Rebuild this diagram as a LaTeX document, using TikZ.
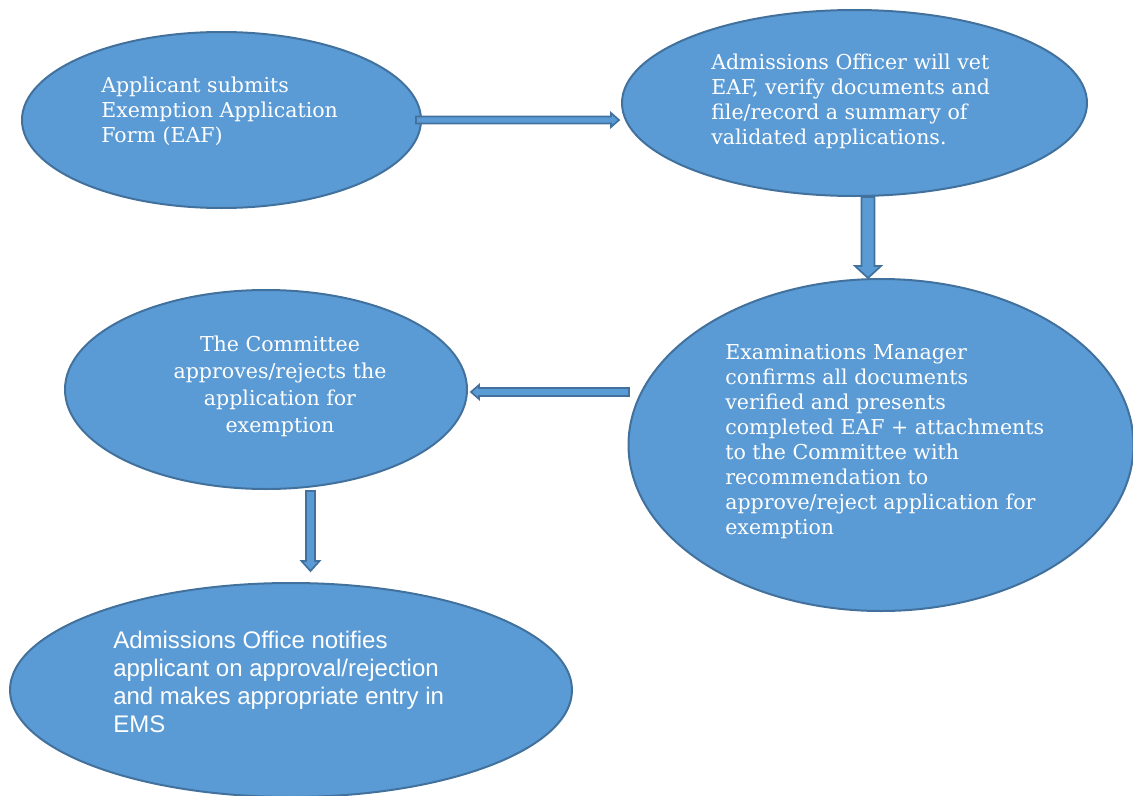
\documentclass[tikz,border=0pt]{standalone}
\usepackage{fontspec}
\setmainfont{DejaVu Serif}
\newfontfamily\sansf{Liberation Sans}
\usetikzlibrary{shapes.geometric,calc}
\definecolor{fillb}{HTML}{5B9BD5}
\definecolor{lineb}{HTML}{41719C}
\tikzset{
  ell/.style={ellipse, fill=fillb, draw=lineb, line width=1.5pt, inner sep=0pt},
  txt/.style={text=white, align=left, anchor=north west, inner sep=0pt,
    font=\fontsize{15.4}{18.75}\selectfont},
  barrow/.style={fill=fillb, draw=lineb, line width=1.3pt, line join=miter},
}
\begin{document}
\begin{tikzpicture}[x=0.75pt,y=-0.75pt]
\useasboundingbox (0,0) rectangle (1133,796);
% ellipses
\node[ell, minimum width=299.25pt, minimum height=132pt] (e1) at (221.5,120) {};
\node[ell, minimum width=348.75pt, minimum height=139.5pt] (e2) at (854.5,103) {};
\node[ell, minimum width=378.75pt, minimum height=249pt] (e3) at (881,445) {};
\node[ell, minimum width=301.5pt, minimum height=149.25pt] (e4) at (266,389.5) {};
\node[ell, minimum width=421.5pt, minimum height=160.5pt] (e5) at (291,690) {};
% texts
\node[txt] (t1) at (101,77) {Applicant submits\\Exemption Application\\Form (EAF)};
\node[txt] (t2) at (711,54) {Admissions Officer will vet\\EAF, verify documents and\\file/record a summary of\\validated applications.};
\node[txt] (t3) at (725,344) {Examinations Manager\\confirms all documents\\verified and presents\\completed EAF + attachments\\to the Committee with\\recommendation to\\approve/reject application for\\exemption};
\node[txt, align=center, anchor=north, font=\fontsize{15.4}{20.25}\selectfont] (t4) at (280,336) {The Committee\\approves/rejects the\\application for\\exemption};
\node[txt, font=\sansf\fontsize{18}{21}\selectfont] (t5) at (113,631) {Admissions Office notifies\\applicant on approval/rejection\\and makes appropriate entry in\\EMS};
% arrow 1: right
\coordinate (a1s) at ($(e1.east)+(-6,0)$);
\coordinate (a1e) at ($(e2.west |- a1s)+(-2,0)$);
\filldraw[barrow] let \p1=(a1s), \p2=(a1e) in
  (\x1,\y1+2.6pt) -- (\x2-6pt,\y1+2.6pt) -- (\x2-6pt,\y1+5.25pt) -- (\x2,\y1)
  -- (\x2-6pt,\y1-5.25pt) -- (\x2-6pt,\y1-2.6pt) -- (\x1,\y1-2.6pt) -- cycle;
% arrow 2: down
\coordinate (a2s) at ($(e2.south)+(13.5,0)$);
\coordinate (a2e) at (a2s |- e3.north);
\filldraw[barrow] let \p1=(a2s), \p2=(a2e) in
  (\x1-4.875pt,\y1) -- (\x1-4.875pt,\y2+9pt) -- (\x1-9.75pt,\y2+9pt) -- (\x1,\y2)
  -- (\x1+9.75pt,\y2+9pt) -- (\x1+4.875pt,\y2+9pt) -- (\x1+4.875pt,\y1) -- cycle;
% arrow 3: left
\coordinate (a3s) at ($(e3.west)+(1.5,-53)$);
\coordinate (a3e) at ($(e4.east |- a3s)+(3,0)$);
\filldraw[barrow] let \p1=(a3s), \p2=(a3e) in
  (\x1,\y1+3pt) -- (\x2+6pt,\y1+3pt) -- (\x2+6pt,\y1+5.25pt) -- (\x2,\y1)
  -- (\x2+6pt,\y1-5.25pt) -- (\x2+6pt,\y1-3pt) -- (\x1,\y1-3pt) -- cycle;
% arrow 4: down
\coordinate (a4s) at ($(e4.south)+(44.5,1)$);
\coordinate (a4e) at ($(a4s |- e5.north)+(0,-11)$);
\filldraw[barrow] let \p1=(a4s), \p2=(a4e) in
  (\x1-3.4pt,\y1) -- (\x1-3.4pt,\y2+7.5pt) -- (\x1-6.75pt,\y2+7.5pt) -- (\x1,\y2)
  -- (\x1+6.75pt,\y2+7.5pt) -- (\x1+3.4pt,\y2+7.5pt) -- (\x1+3.4pt,\y1) -- cycle;
\end{tikzpicture}
\end{document}
